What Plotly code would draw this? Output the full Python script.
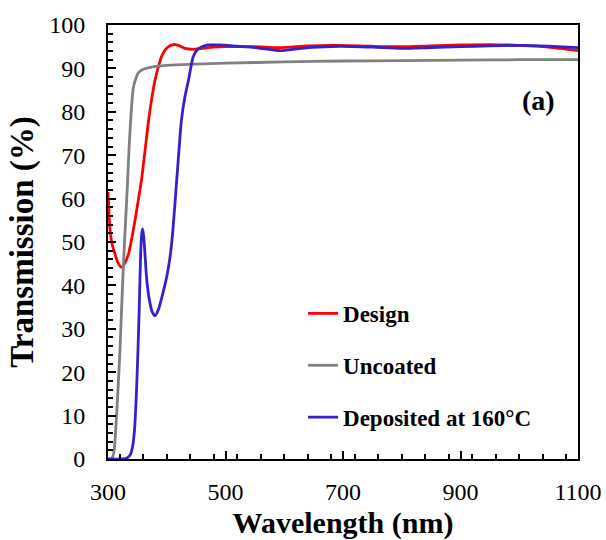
import plotly.graph_objects as go

# ---- data ----
wl_design = [300, 302, 304, 308, 312, 317, 323, 329, 335, 340, 346, 352, 357, 363, 369, 375, 380,
             386, 391, 397, 403, 409, 414, 420, 431, 445, 460, 480, 500, 550, 593, 640, 690,
             750, 800, 850, 900, 950, 1000, 1050, 1100]
t_design = [61.5, 56, 52, 49, 47.2, 45.2, 44.2, 45.2, 47.3, 50.5, 55, 60, 64.3, 71, 78, 83.5, 87.3,
            90.5, 92.7, 94.2, 95.0, 95.4, 95.5, 95.3, 94.6, 94.4, 94.6, 94.9, 95.0, 95.0, 94.8, 95.2, 95.3,
            95.1, 95.0, 95.2, 95.4, 95.5, 95.3, 94.9, 94.1]

wl_uncoated = [300, 306, 310, 315, 320, 323, 326, 330, 333, 336, 340, 343, 347, 352, 360, 370,
               400, 450, 500, 600, 700, 800, 900, 1000, 1100]
t_uncoated = [0, 0, 1.5, 11, 24, 34, 44, 55, 63, 72, 81, 85.5, 87.5, 89, 89.8, 90.2,
              90.7, 91.0, 91.2, 91.5, 91.7, 91.8, 91.9, 92.0, 92.0]

wl_deposited = [300, 325, 333, 338, 342, 345, 348, 351, 353, 355.5, 357.5, 359, 361, 363.5, 366,
                370, 375, 380, 386, 393, 400, 405, 410, 417, 425, 431, 437, 445, 452, 460, 471,
                490, 520, 550, 593, 640, 695, 750, 800, 850, 900, 950, 1000, 1050, 1100]
t_deposited = [0, 0, 0.3, 1, 3, 6.5, 14, 25, 34, 47, 52, 53, 51, 46, 41.2,
               37, 34, 33, 34.5, 38, 42, 46, 52, 64.3, 78.1, 83.5, 87.3, 92.7, 94.3, 95.0, 95.4,
               95.4, 95.1, 94.8, 94.1, 94.8, 95.1, 94.9, 94.6, 94.8, 95.0, 95.2, 95.3, 95.1, 94.8]

names = ["Design", "Uncoated", "Deposited at 160°C"]
colors = ["#FF0000", "#808080", "#3322CC"]

FONT = "Liberation Serif, Times New Roman, serif"

fig = go.Figure()
for i, (wl, t) in enumerate([(wl_design, t_design), (wl_uncoated, t_uncoated),
                             (wl_deposited, t_deposited)]):
    fig.add_trace(go.Scatter(x=wl, y=t, mode="lines", name=names[i],
                             legendgroup=f"g{i}",
                             line=dict(color=colors[i], width=2.8, shape="spline", smoothing=0.6)))

axis_common = dict(
    showline=True, linecolor="black", linewidth=2, mirror=True,
    ticks="inside", ticklen=8, tickwidth=2, tickcolor="black",
    showgrid=False, zeroline=False, automargin=False,
    tickfont=dict(family=FONT, size=24, color="black"),
)

fig.update_xaxes(range=[300, 1100], tickmode="linear", tick0=300, dtick=200,
                 minor=dict(dtick=40, ticks="inside", ticklen=5, tickwidth=2, tickcolor="black"),
                 title=dict(text="Wavelength (nm)", font=dict(family=FONT, size=30, color="black", weight="bold"),
                            standoff=22),
                 ticklabelstandoff=10,
                 **axis_common)
fig.update_yaxes(range=[0, 100], tickmode="linear", tick0=0, dtick=10,
                 minor=dict(dtick=2, ticks="inside", ticklen=5, tickwidth=2, tickcolor="black"),
                 title=dict(text="Transmission (%)", font=dict(family=FONT, size=33, color="black", weight="bold"),
                            standoff=6),
                 ticklabelstandoff=16,
                 **axis_common)

fig.add_annotation(text="(a)", x=0.917, y=0.827, xref="paper", yref="paper",
                   xanchor="center", yanchor="middle",
                   showarrow=False, font=dict(family=FONT, size=28, color="black", weight="bold"))

fig.update_layout(
    width=606, height=540,
    margin=dict(l=108, r=28, t=25, b=81),
    paper_bgcolor="white", plot_bgcolor="white",
    showlegend=True,
    legend=dict(x=0.415, y=0.385, xanchor="left", yanchor="top",
                bgcolor="rgba(0,0,0,0)", tracegroupgap=19,
                font=dict(family=FONT, size=23, color="black", weight="bold")),
)

fig.write_html("out.html")
